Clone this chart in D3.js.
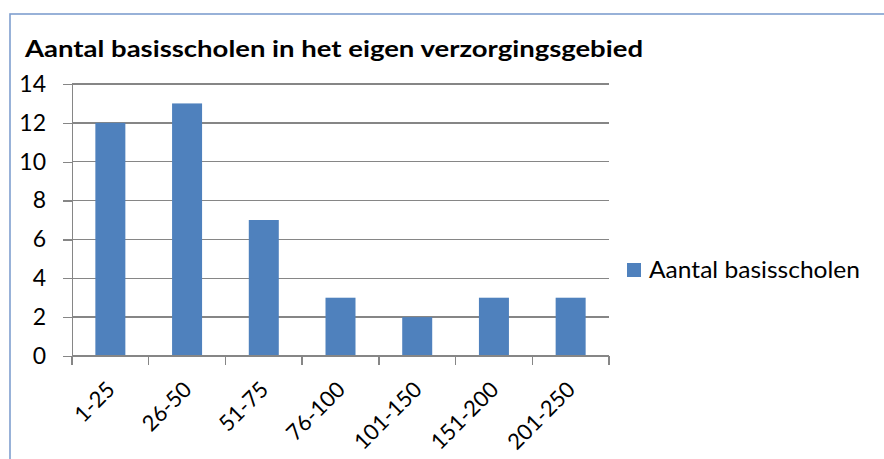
<!DOCTYPE html>
<meta charset="utf-8">
<head>
  <script src="https://cdn.jsdelivr.net/npm/d3@7"></script>
  <style>
    body { margin: 0; background: #fff; }
    text { font-family: Lato, "Open Sans", sans-serif; fill: #000; }
    .axis path, .axis line { stroke: #868686; stroke-width: 1.3; shape-rendering: crispEdges; }
    .grid line { stroke: #868686; stroke-width: 1.3; shape-rendering: crispEdges; }
  </style>
</head>
<body>
<script>

// data
var categories = ["1-25", "26-50", "51-75", "76-100", "101-150", "151-200", "201-250"];
var values = [12, 13, 7, 3, 2, 3, 3];
var yTicks = [0, 2, 4, 6, 8, 10, 12, 14];
var title = "Aantal basisscholen in het eigen verzorgingsgebied";
var seriesName = "Aantal basisscholen";

var W = 884, H = 459;
var plot = {left: 72, right: 609, top: 84, bottom: 356};

var svg = d3.select("body").append("svg")
  .attr("width", W)
  .attr("height", H);

// chart frame (runs off right and bottom)
svg.append("rect")
  .attr("x", 10).attr("y", 14)
  .attr("width", W + 20).attr("height", H + 20)
  .attr("fill", "#fff")
  .attr("stroke", "#7f9fcf")
  .attr("stroke-width", 1.6);

var x = d3.scaleBand().domain(categories).range([plot.left, plot.right]);
var y = d3.scaleLinear().domain([0, 14]).range([plot.bottom, plot.top]);

// gridlines
svg.append("g").attr("class", "grid")
  .selectAll("line")
  .data(yTicks.filter(function(d) { return d > 0; }))
  .enter().append("line")
  .attr("x1", plot.left).attr("x2", plot.right)
  .attr("y1", function(d) { return y(d); })
  .attr("y2", function(d) { return y(d); });

// bars
var barW = 30;
svg.selectAll("rect.bar")
  .data(values)
  .enter().append("rect")
  .attr("class", "bar")
  .attr("x", function(d, i) { return x(categories[i]) + x.bandwidth() / 2 - barW / 2; })
  .attr("width", barW)
  .attr("y", function(d) { return y(d); })
  .attr("height", function(d) { return y(0) - y(d); })
  .attr("fill", "#4f81bd");

// y axis
var yAxis = d3.axisLeft(y).tickValues(yTicks).tickSize(9).tickPadding(17).tickSizeOuter(0);
svg.append("g").attr("class", "axis")
  .attr("transform", "translate(" + plot.left + ",0)")
  .call(yAxis)
  .selectAll("text")
  .style("font-size", "23px");

// x axis: ticks on category boundaries
var xg = svg.append("g").attr("class", "axis")
  .attr("transform", "translate(0," + plot.bottom + ")");
xg.append("line")
  .attr("x1", plot.left).attr("x2", plot.right);
xg.selectAll("line.tk")
  .data(d3.range(categories.length + 1))
  .enter().append("line")
  .attr("class", "tk")
  .attr("x1", function(i) { return plot.left + i * x.step(); })
  .attr("x2", function(i) { return plot.left + i * x.step(); })
  .attr("y1", 0).attr("y2", 9);
xg.selectAll("text")
  .data(categories)
  .enter().append("text")
  .attr("text-anchor", "end")
  .attr("transform", function(d) {
    return "translate(" + (x(d) + x.bandwidth() / 2 + 6) + ",35) rotate(-45)";
  })
  .style("font-size", "22px")
  .text(function(d) { return d; });

// title
svg.append("text")
  .attr("x", 25).attr("y", 57)
  .attr("textLength", 618)
  .attr("lengthAdjust", "spacingAndGlyphs")
  .style("font-size", "23px")
  .style("font-weight", "bold")
  .text(title);

// legend
svg.append("rect")
  .attr("x", 627).attr("y", 263)
  .attr("width", 14).attr("height", 14)
  .attr("fill", "#4f81bd");
svg.append("text")
  .attr("x", 649).attr("y", 278)
  .attr("textLength", 211)
  .attr("lengthAdjust", "spacingAndGlyphs")
  .style("font-size", "23px")
  .text(seriesName);

</script>
</body>
